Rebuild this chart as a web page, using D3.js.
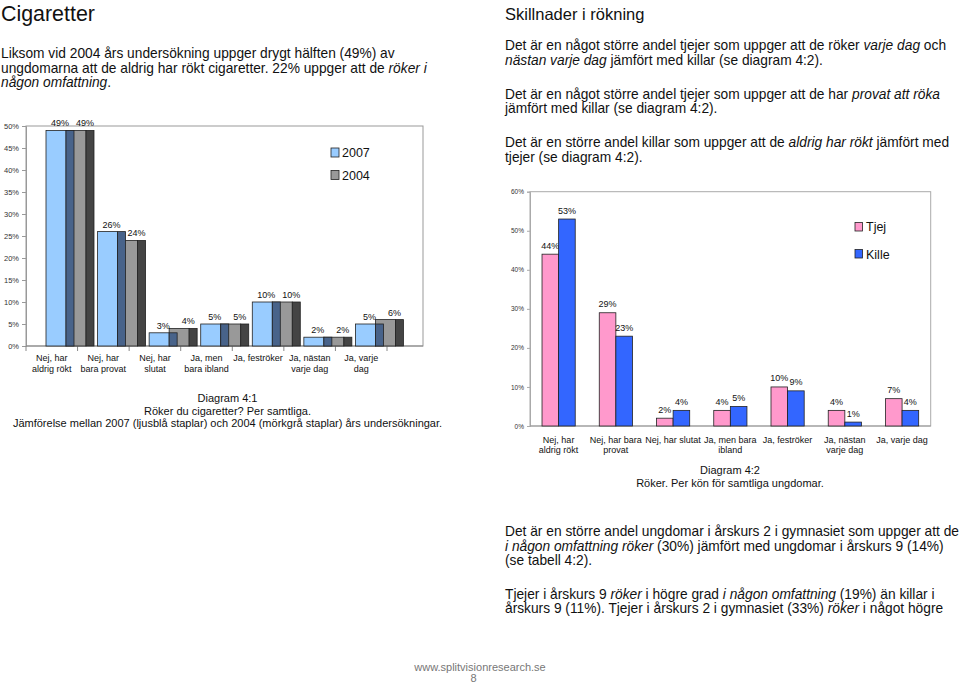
<!DOCTYPE html>
<html>
<head>
<meta charset="utf-8">
<script src="https://cdn.jsdelivr.net/npm/d3@7"></script>
<style>
  body { margin: 0; background: #fff; }
  svg { display: block; font-family: "Liberation Sans", Arial, sans-serif; }
</style>
</head>
<body>
<div id="page"></div>
<script>
// diagram 4:1 data
let categories = ['Nej, har aldrig rökt', 'Nej, har bara provat', 'Nej, har slutat', 'Ja, men bara ibland',
  'Ja, feströker', 'Ja, nästan varje dag', 'Ja, varje dag'];
let labels1 = [['Nej, har', 'aldrig rökt'], ['Nej, har', 'bara provat'], ['Nej, har', 'slutat'],
  ['Ja, men', 'bara ibland'], ['Ja, feströker'], ['Ja, nästan', 'varje dag'], ['Ja, varje', 'dag']];
let values2007 = [49, 26, 3, 5, 10, 2, 5];
let values2004 = [49, 24, 4, 5, 10, 2, 6];
let ticks1 = [0, 5, 10, 15, 20, 25, 30, 35, 40, 45, 50];

// diagram 4:2 data
let labels2 = [['Nej, har', 'aldrig rökt'], ['Nej, har bara', 'provat'], ['Nej, har slutat'],
  ['Ja, men bara', 'ibland'], ['Ja, feströker'], ['Ja, nästan', 'varje dag'], ['Ja, varje dag']];
let valuesTjej = [44, 29, 2, 4, 10, 4, 7];
let valuesKille = [53, 23, 4, 5, 9, 1, 4];
let ticks2 = [0, 10, 20, 30, 40, 50, 60];

let width = 960;
let height = 694;
let body_size = 13.75;

let svg = d3
  .select('#page')
  .append('svg')
  .attr('width', width)
  .attr('height', height);

// text lines, *...* means italic
function textLine(x, y, str, size, anchor) {
  let t = svg
    .append('text')
    .attr('x', x)
    .attr('y', y)
    .attr('font-size', size)
    .attr('fill', '#111')
    .attr('text-anchor', anchor || 'start');
  str.split('*').forEach((part, i) => {
    if (part === '') return;
    t.append('tspan')
      .attr('font-style', i % 2 === 1 ? 'italic' : 'normal')
      .text(part);
  });
  return t;
}

// ---- texts ----
textLine(1, 21, 'Cigaretter', 21.4);
textLine(1, 58, 'Liksom vid 2004 års undersökning uppger drygt hälften (49%) av', body_size);
textLine(1, 72.5, 'ungdomarna att de aldrig har rökt cigaretter. 22% uppger att de *röker i*', body_size);
textLine(1, 86.5, '*någon omfattning*.', body_size);

textLine(505, 20, 'Skillnader i rökning', 16.5);
textLine(505, 49.5, 'Det är en något större andel tjejer som uppger att de röker *varje dag* och', body_size);
textLine(505, 64.5, '*nästan varje dag* jämfört med killar (se diagram 4:2).', body_size);
textLine(505, 98.5, 'Det är en något större andel tjejer som uppger att de har *provat att röka*', body_size);
textLine(505, 113, 'jämfört med killar (se diagram 4:2).', body_size);
textLine(505, 147, 'Det är en större andel killar som uppger att de *aldrig har rökt* jämfört med', body_size);
textLine(505, 161.5, 'tjejer (se diagram 4:2).', body_size);

textLine(505, 536, 'Det är en större andel ungdomar i årskurs 2 i gymnasiet som uppger att de', body_size);
textLine(505, 550.5, '*i någon omfattning röker* (30%) jämfört med ungdomar i årskurs 9 (14%)', body_size);
textLine(505, 565, '(se tabell 4:2).', body_size);
textLine(505, 598.5, 'Tjejer i årskurs 9 *röker* i högre grad *i någon omfattning* (19%) än killar i', body_size);
textLine(505, 613, 'årskurs 9 (11%). Tjejer i årskurs 2 i gymnasiet (33%) *röker* i något högre', body_size);

textLine(480, 670.5, 'www.splitvisionresearch.se', 11, 'middle').attr('fill', '#777');
textLine(473.5, 682, '8', 11, 'middle').attr('fill', '#777');

// ---- diagram 4:1 ----
let x1 = d3.scaleBand().domain(categories).range([26, 387]);
let y1 = d3.scaleLinear().domain([0, 50]).range([346, 126]);

svg
  .append('rect')
  .attr('x', 26)
  .attr('y', 126)
  .attr('width', 423 - 26)
  .attr('height', 346 - 126)
  .attr('fill', 'none')
  .attr('stroke', '#999');

let y_axis1 = d3.axisLeft(y1).tickValues(ticks1).tickSize(4).tickFormat(d => d + '%');
let gy1 = svg
  .append('g')
  .attr('transform', 'translate(26,0)')
  .call(y_axis1);
gy1.select('.domain').attr('stroke', '#999');
gy1.selectAll('line').attr('stroke', '#999');
gy1.selectAll('text').attr('font-size', 7.5).attr('fill', '#333').attr('font-family', null);

// x axis line + category boundary ticks
svg
  .append('line')
  .attr('x1', 26)
  .attr('x2', 423)
  .attr('y1', y1(0))
  .attr('y2', y1(0))
  .attr('stroke', '#888');
svg
  .append('g')
  .selectAll('line')
  .data(categories.map(c => x1(c)).concat([x1.range()[1]]))
  .enter()
  .append('line')
  .attr('x1', d => d)
  .attr('x2', d => d)
  .attr('y1', y1(0))
  .attr('y2', y1(0) + 5)
  .attr('stroke', '#888');

// 3d-ish bars: front face + darker side face
function bar(x, w, v, fill, side) {
  svg
    .append('rect')
    .attr('x', x)
    .attr('y', y1(v))
    .attr('width', w)
    .attr('height', y1(0) - y1(v))
    .attr('fill', fill)
    .attr('stroke', '#222')
    .attr('stroke-width', 0.8);
  svg
    .append('rect')
    .attr('x', x + w)
    .attr('y', y1(v))
    .attr('width', 8)
    .attr('height', y1(0) - y1(v))
    .attr('fill', side)
    .attr('stroke', '#222')
    .attr('stroke-width', 0.8);
}

categories.forEach((c, i) => {
  let b = x1(c);
  bar(b + 40, 20, values2004[i], '#999999', '#444444');
  bar(b + 20, 20, values2007[i], '#99ccff', '#48638a');
});

svg
  .append('g')
  .selectAll('text')
  .data(values2007)
  .enter()
  .append('text')
  .attr('x', (d, i) => x1(categories[i]) + 34)
  .attr('y', d => y1(d) - 4)
  .attr('text-anchor', 'middle')
  .attr('font-size', 9)
  .attr('fill', '#111')
  .text(d => d + '%');
svg
  .append('g')
  .selectAll('text')
  .data(values2004)
  .enter()
  .append('text')
  .attr('x', (d, i) => x1(categories[i]) + 59)
  .attr('y', d => y1(d) - 4)
  .attr('text-anchor', 'middle')
  .attr('font-size', 9)
  .attr('fill', '#111')
  .text(d => d + '%');

labels1.forEach((lines, i) => {
  lines.forEach((l, j) => {
    textLine(x1(categories[i]) + x1.bandwidth() / 2, 361 + j * 10.7, l, 9, 'middle');
  });
});

// legend 4:1
svg.append('rect').attr('x', 331).attr('y', 148).attr('width', 8).attr('height', 9)
  .attr('fill', '#99ccff').attr('stroke', '#222').attr('stroke-width', 0.8);
textLine(342, 157, '2007', 12.5);
svg.append('rect').attr('x', 331).attr('y', 170.5).attr('width', 8).attr('height', 9)
  .attr('fill', '#999999').attr('stroke', '#222').attr('stroke-width', 0.8);
textLine(342, 179.5, '2004', 12.5);

textLine(227.5, 402, 'Diagram 4:1', 11, 'middle');
textLine(227.5, 415, 'Röker du cigaretter? Per samtliga.', 11, 'middle');
textLine(227.5, 426.5, 'Jämförelse mellan 2007 (ljusblå staplar) och 2004 (mörkgrå staplar) års undersökningar.', 11, 'middle');

// ---- diagram 4:2 ----
let x2 = d3.scaleBand().domain(categories).range([530, 930.7]).paddingInner(0.42).paddingOuter(0.21);
let x2s = d3.scaleBand().domain(['Tjej', 'Kille']).range([0, x2.bandwidth()]);
let y2 = d3.scaleLinear().domain([0, 60]).range([426, 191.7]);

svg
  .append('rect')
  .attr('x', 530)
  .attr('y', 191.7)
  .attr('width', 930.7 - 530)
  .attr('height', 426 - 191.7)
  .attr('fill', 'none')
  .attr('stroke', '#aaa');

let y_axis2 = d3.axisLeft(y2).tickValues(ticks2).tickSize(3).tickFormat(d => d + '%');
let gy2 = svg
  .append('g')
  .attr('transform', 'translate(530,0)')
  .call(y_axis2);
gy2.select('.domain').attr('stroke', '#aaa');
gy2.selectAll('line').attr('stroke', '#aaa');
gy2.selectAll('text').attr('font-size', 6.5).attr('fill', '#333').attr('font-family', null);

svg
  .append('line')
  .attr('x1', 530)
  .attr('x2', 930.7)
  .attr('y1', y2(0))
  .attr('y2', y2(0))
  .attr('stroke', '#999');

let series2 = [
  { key: 'Tjej', values: valuesTjej, color: '#ff99cc' },
  { key: 'Kille', values: valuesKille, color: '#3366ff' }
];

series2.forEach(s => {
  svg
    .append('g')
    .selectAll('rect')
    .data(s.values)
    .enter()
    .append('rect')
    .attr('x', (d, i) => x2(categories[i]) + x2s(s.key))
    .attr('y', d => y2(d))
    .attr('width', x2s.bandwidth())
    .attr('height', d => y2(0) - y2(d))
    .attr('fill', s.color)
    .attr('stroke', '#222')
    .attr('stroke-width', 0.8);
  svg
    .append('g')
    .selectAll('text')
    .data(s.values)
    .enter()
    .append('text')
    .attr('x', (d, i) => x2(categories[i]) + x2s(s.key) + x2s.bandwidth() / 2)
    .attr('y', d => y2(d) - 5.5)
    .attr('text-anchor', 'middle')
    .attr('font-size', 9)
    .attr('fill', '#111')
    .text(d => d + '%');
});

labels2.forEach((lines, i) => {
  lines.forEach((l, j) => {
    textLine(x2(categories[i]) + x2.bandwidth() / 2, 442.5 + j * 10.7, l, 9, 'middle');
  });
});

// legend 4:2
svg.append('rect').attr('x', 855).attr('y', 222.5).attr('width', 7.5).attr('height', 8.5)
  .attr('fill', '#ff99cc').attr('stroke', '#222').attr('stroke-width', 0.8);
textLine(866, 231, 'Tjej', 12.5);
svg.append('rect').attr('x', 855).attr('y', 249.5).attr('width', 7.5).attr('height', 8.5)
  .attr('fill', '#3366ff').attr('stroke', '#222').attr('stroke-width', 0.8);
textLine(866, 258.5, 'Kille', 12.5);

textLine(730, 474, 'Diagram 4:2', 11, 'middle');
textLine(730, 487, 'Röker. Per kön för samtliga ungdomar.', 11, 'middle');
</script>
</body>
</html>
